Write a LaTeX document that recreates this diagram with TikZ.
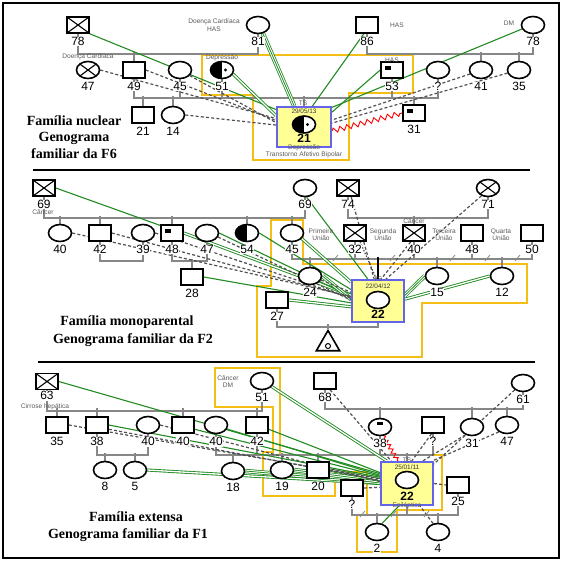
\documentclass[tikz,border=0pt]{standalone}
\usepackage{fontspec}
\setmainfont{Liberation Sans}
\newfontfamily\capfont{Liberation Serif}
\usetikzlibrary{shapes.geometric,decorations.pathmorphing}
\pgfdeclarelayer{bg}
\pgfdeclarelayer{mid}
\pgfsetlayers{bg,mid,main}
\definecolor{grn}{RGB}{34,139,34}
\definecolor{ylw}{RGB}{245,190,20}
\definecolor{bluebox}{RGB}{100,100,235}
\definecolor{idxfill}{RGB}{255,255,150}
\definecolor{fam}{RGB}{135,135,135}
\definecolor{dsh}{RGB}{80,80,80}
\tikzset{
  sym/.style={draw=black, line width=1.6pt, inner sep=0pt, fill=white},
  male/.style={sym, rectangle, minimum width=22pt, minimum height=16pt},
  female/.style={sym, ellipse, minimum width=23pt, minimum height=17pt},
  dead/.style={path picture={\draw[line width=1.1pt] (path picture bounding box.north west) -- (path picture bounding box.south east) (path picture bounding box.north east) -- (path picture bounding box.south west);}},
  halfdot/.style={path picture={\fill[black] (path picture bounding box.south west) rectangle (path picture bounding box.north); \fill[black] ([xshift=3.5pt]path picture bounding box.center) circle (1.7pt);}},
  halfleft/.style={path picture={\fill[black] (path picture bounding box.south west) rectangle (path picture bounding box.north);}},
  sqmark/.style={path picture={\fill[black] ([xshift=4pt,yshift=-3.5pt]path picture bounding box.north west) rectangle ++(6pt,-4pt);}},
  cmark/.style={path picture={\fill[black] ([xshift=-3pt,yshift=-3.5pt]path picture bounding box.north) rectangle ++(6pt,-3pt);}},
  num/.style={font=\fontsize{12}{12}\selectfont, inner sep=0.5pt, fill=white},
  lb/.style={label={[num,label distance=2.6pt]below:#1}},
  tiny/.style={font=\fontsize{6.6}{7.2}\selectfont, text=black!65, align=center, inner sep=0pt},
  date/.style={font=\fontsize{6.4}{7}\selectfont, text=black!80, inner sep=0pt},
  big/.style={font=\bfseries\fontsize{12}{12}\selectfont, inner sep=0pt},
  idx/.style={rectangle, draw=bluebox, line width=2pt, fill=idxfill, inner sep=0pt},
  famline/.style={draw=fam, line width=1.4pt},
  g1/.style={draw=grn, line width=1.1pt},
  g2/.style={draw=grn, line width=0.9pt, double=white, double distance=1.3pt},
  g3/.style={draw=grn, line width=0.8pt, double=white, double distance=2.8pt},
  g3m/.style={draw=grn, line width=0.8pt},
  conf/.style={draw=dsh, line width=1.2pt, dash pattern=on 3pt off 2.2pt},
  dotl/.style={draw=dsh, line width=1.2pt, dash pattern=on 1.4pt off 1.6pt},
  ybox/.style={draw=ylw, line width=1.5pt},
  zig/.style={draw=red, line width=0.9pt, decorate, decoration={zigzag, segment length=7pt, amplitude=2.5pt}},
  capt/.style={font=\capfont\bfseries\fontsize{14}{16.5}\selectfont, align=center, inner sep=0pt},
  slash/.style={draw=fam, line width=0.8pt},
}
\begin{document}
\begin{tikzpicture}[x=1pt,y=-1pt]
\useasboundingbox (0,0) rectangle (567,563);
\draw[line width=1.2pt] (3,3) rectangle (559,558);
\draw[line width=1.8pt] (33,170) -- (530,170);
\draw[line width=1.8pt] (38,362) -- (535,362);

% yellow outlines
\begin{pgfonlayer}{bg}
\draw[ybox] (202,55) -- (413,55) -- (413,93) -- (349,93) -- (349,160) -- (253,160) -- (253,95) -- (202,95) -- cycle;
\draw[ybox] (271,220) -- (303,220) -- (303,264) -- (527,264) -- (527,303) -- (422,303) -- (422,357) -- (257,357) -- (257,286) -- (271,286) -- cycle;
\draw[ybox] (215,368) -- (280,368) -- (280,455) -- (442,455) -- (442,510) -- (397,510) -- (397,552) -- (357,552) -- (357,515) -- (367,515) -- (367,472) -- (335,472) -- (335,496) -- (263,496) -- (263,452) -- (273,452) -- (273,407) -- (215,407) -- cycle;
\end{pgfonlayer}

% ================= PANEL 1 =================
\node[male,dead,lb=78] (A78) at (78,25) {};
\node[female,lb=81] (A81) at (258,25) {};
\node[male,lb=86] (A86) at (367,25) {};
\node[female,lb=78] (A78r) at (533,25) {};
\node[female,dead,lb=47] (A47) at (88,70) {};
\node[male,lb=49] (A49) at (134,70) {};
\node[female,lb=45] (A45) at (180,70) {};
\node[female,halfdot,lb=51] (A51) at (222,70) {};
\node[male,sqmark,lb=53] (A53) at (392,70) {};
\node[female,lb=?] (Aq) at (438,70) {};
\node[female,lb=41] (A41) at (481,70) {};
\node[female,lb=35] (A35) at (519,70) {};
\node[male,lb=21] (A21) at (143,115) {};
\node[female,lb=14] (A14) at (173,115) {};
\node[male,sqmark,lb=31] (A31) at (414,113) {};
\node[idx,minimum width=54pt,minimum height=40pt] (I1) at (304,127) {};
\node[female,halfdot] (I1s) at (304,124.5) {};
\node[tiny] (t1) at (303,103) {TS};
\node[date] (t2) at (304,111.5) {29/05/13};
\node[big] (t3) at (304,138.5) {21};
\node[tiny] (t4) at (304,147.5) {Depressão};
\node[tiny] (t5) at (304,155) {Transtorno Afetivo Bipolar};
\node[tiny] (t6) at (88,57) {Doença Cardíaca};
\node[tiny] (t7) at (214,25) {Doença Cardíaca\\HAS};
\node[tiny] (t8) at (222,58) {Depressão};
\node[tiny] (t9) at (392,60) {HAS};
\node[tiny] (t10) at (397,25) {HAS};
\node[tiny] (t11) at (509,23) {DM};
\node[capt] (cap1) at (74,137) {Família nuclear\\Genograma\\familiar da F6};

\begin{pgfonlayer}{mid}
\draw[famline] (A78.south) -- ++(0,20) -| (A81.south);
\draw[famline] (A86.south) -- ++(0,20) -| (A78r.south);
\draw[famline] (A49.north) -- ++(0,-9);
\draw[famline] (A41.north) -- ++(0,-8.5);
\draw[famline] (A35.north) -- ++(0,-8.5);
\draw[famline] (A49.south) -- ++(0,19) -| (Aq.south);
\draw[famline] (A45.south) -- ++(0,18.5);
\draw[famline] (A51.south) -- ++(0,18.5);
\draw[famline] (A53.south) -- ++(0,19);
\draw[famline] (A21.north) -- ++(0,-10);
\draw[famline] (A14.north) -- ++(0,-9.5);
\draw[famline] (A31.north) -- ++(0,-8);
\draw[famline] (I1.north) -- ++(0,-10);
% relations
\draw[g1] (A78.south east) -- (I1.148);
\draw[g3] (A81.-60) -- (I1.115); \draw[g3m] (A81.-60) -- (I1.115);
\draw[g1] (A86.-110) -- (I1.68);
\draw[g1] (A78r.200) -- (I1.35);
\draw[g1] (A53.west) -- (I1.28);
\draw[g2] (A51.-20) -- (I1.158);
\draw[conf] (A47.east) -- (I1.163);
\draw[conf] (A49.east) -- (I1.167);
\draw[conf] (A45.-30) -- (I1.171);
\draw[conf] (A14.east) -- (I1.176);
\draw[conf] (A41.200) -- (I1.14);
\draw[conf] (A35.195) -- (I1.8);
\draw[zig] (I1.-8) -- (A31.west);
\end{pgfonlayer}

% ================= PANEL 2 =================
\node[male,dead,lb=69] (B69) at (44,188) {};
\node[female,lb=69] (B69r) at (305,188) {};
\node[male,dead,lb=74] (B74) at (348,188) {};
\node[female,dead,lb=71] (B71) at (488,188) {};
\node[female,lb=40] (B40) at (60,233) {};
\node[male,lb=42] (B42) at (100,233) {};
\node[female,lb=39] (B39) at (143,233) {};
\node[male,sqmark,lb=48] (B48) at (172,233) {};
\node[female,lb=47] (B47) at (207,233) {};
\node[female,halfleft,lb=54] (B54) at (247,233) {};
\node[female,lb=45] (B45) at (292,233) {};
\node[male,dead,lb=32] (B32) at (355,233) {};
\node[male,dead,lb=40] (B40m) at (414,233) {};
\node[male,lb=48] (B48r) at (472,233) {};
\node[male,lb=50] (B50) at (532,233) {};
\node[male,lb=28] (B28) at (192,277) {};
\node[female,lb=24] (B24) at (310,276) {};
\node[female,lb=15] (B15) at (437,276) {};
\node[female,lb=12] (B12) at (502,276) {};
\node[male,lb=27] (B27) at (277,300) {};
\node[idx,minimum width=52pt,minimum height=42pt] (I2) at (378,301) {};
\node[female] (I2s) at (378,300) {};
\node[tiny] (u1) at (378,279) {TS};
\node[date] (u2) at (378,286) {22/04/12};
\node[big] (u3) at (378,314) {22};
\node[draw, line width=1.6pt, regular polygon, regular polygon sides=3, minimum size=27pt, inner sep=0pt, fill=white] (Btri) at (328,344) {};
\node[draw, line width=1pt, circle, minimum size=5pt, inner sep=0pt] (Btric) at (328,346) {};
\node[tiny] (u4) at (43,212.5) {Câncer};
\node[tiny] (u5) at (414,221) {Câncer};
\node[tiny] (u6) at (321,234.5) {Primeira\\União};
\node[tiny] (u7) at (383,234.5) {Segunda\\União};
\node[tiny] (u8) at (444,234.5) {Terceira\\União};
\node[tiny] (u9) at (501,234.5) {Quarta\\União};
\node[capt] (cap2a) at (127,322) {Família monoparental};
\node[capt] (cap2b) at (133,340) {Genograma familiar da F2};

\begin{pgfonlayer}{mid}
\draw[famline] (B69.south) -- ++(0,21) -| (B69r.south);
\draw[famline] (B40.north) -- ++(0,-7.5);
\draw[famline] (B42.north) -- ++(0,-8);
\draw[famline] (B48.north) -- ++(0,-8);
\draw[famline] (B54.north) -- ++(0,-7.5);
\draw[famline] (B45.north) -- ++(0,-7.5);
\draw[famline] (B74.south) -- ++(0,21) -| (B71.south);
\draw[famline] (B40m.north) -- ++(0,-8);
\draw[famline] (B42.south) -- ++(0,19) -| (B39.south);
\draw[famline] (B48.south) -- ++(0,19) -| (B47.south);
\draw[famline] (B28.north) -- ++(0,-9);
\draw[famline] (B45.south) -- ++(0,16.5) -| (B50.south);
\draw[famline] (B32.south) -- ++(0,17);
\draw[famline] (B40m.south) -- ++(0,17);
\draw[famline] (B48r.south) -- ++(0,17);
\draw[famline] (B24.north) -- ++(0,-9.5);
\draw[famline] (B15.north) -- ++(0,-9.5);
\draw[famline] (B12.north) -- ++(0,-9.5);
\draw[draw=black, line width=1.4pt] (I2.north) -- ++(0,-22);
\draw[famline] (B27.south) -- ++(0,18) -| (I2.south);
\draw[famline] (Btri.north) -- ++(0,-5);
% relations
\draw[g1] (B69.east) -- (I2.165);
\draw[g2] (B48.east) -- (I2.168);
\draw[g1] (B47.east) -- (I2.171);
\draw[g1] (B54.east) -- (I2.157);
\draw[g2] (B45.-30) -- (I2.145);
\draw[g1] (B69r.-80) -- (I2.115);
\draw[g3] (B24.east) -- (I2.176); \draw[g3m] (B24.east) -- (I2.176);
\draw[g1] (B28.east) -- (I2.184);
\draw[g2] (B27.east) -- (I2.192);
\draw[g3] (B15.west) -- (I2.12); \draw[g3m] (B15.west) -- (I2.12);
\draw[g2] (B12.west) -- (I2.4);
\draw[conf] (B40.east) -- (I2.170);
\draw[conf] (B42.east) -- (I2.172);
\draw[conf] (B39.east) -- (I2.174);
\draw[conf] (B47.-20) -- (I2.178);
\draw[conf] (B24.-20) -- (I2.162);
\draw[conf] (B74.-70) -- (I2.100);
\draw[dotl] (B32.-60) -- (I2.94);
\draw[conf] (B40m.-110) -- (I2.82);
\draw[conf] (B71.-130) -- (I2.70);
\end{pgfonlayer}
\draw[slash] (333,261) -- (338,255);
\draw[slash] (390,261) -- (395,255);
\draw[slash] (450,261) -- (455,255);
\draw[slash] (485,261) -- (490,255);
\draw[slash] (515,261) -- (520,255);

% ================= PANEL 3 =================
\node[male,dead,label={[num,label distance=0.6pt]below:63}] (C63) at (47,381.5) {};
\node[female,lb=51] (C51) at (262,381) {};
\node[male,lb=68] (C68) at (325,381) {};
\node[female,lb=61] (C61) at (523,383) {};
\node[male,lb=35] (C35) at (57,425) {};
\node[male,lb=38] (C38) at (97,425) {};
\node[female,lb=40] (C40a) at (148,425) {};
\node[male,lb=40] (C40b) at (183,425) {};
\node[female,lb=40] (C40c) at (216,425) {};
\node[male,lb=42] (C42) at (257,425) {};
\node[female,cmark,lb=38] (C38r) at (380,427) {};
\node[male,lb=?] (Cq) at (433,425) {};
\node[female,lb=31] (C31) at (472,427) {};
\node[female,lb=47] (C47) at (507,425) {};
\node[female,lb=8] (C8) at (105,470) {};
\node[female,lb=5] (C5) at (135,470) {};
\node[female,lb=18] (C18) at (233,471) {};
\node[female,lb=19] (C19) at (282,470) {};
\node[male,lb=20] (C20) at (318,470) {};
\node[idx,minimum width=52pt,minimum height=43pt] (I3) at (407,483.5) {};
\node[female] (I3s) at (407,480) {};
\node[tiny] (v1) at (407,460.5) {TS};
\node[date] (v2) at (407,467.5) {25/01/11};
\node[big] (v3) at (407,496.5) {22};
\node[tiny] (v4) at (407,505.5) {Epiléptica};
\node[male,lb=25] (C25) at (458,485) {};
\node[male,lb=?] (Cq2) at (352,488) {};
\node[female,lb=2] (C2) at (377,532) {};
\node[female,lb=4] (C4) at (438,532) {};
\node[tiny] (v5) at (45,406.5) {Cirrose hepática};
\node[tiny] (v6) at (228,381.5) {Câncer\\DM};
\node[capt] (cap3a) at (136,517) {Família extensa};
\node[capt] (cap3b) at (128,535) {Genograma familiar da F1};

\begin{pgfonlayer}{mid}
\draw[famline] (C63.south) -- ++(0,20.5) -| (C51.south);
\draw[famline] (C35.north) -- ++(0,-8);
\draw[famline] (C38.north) -- ++(0,-8);
\draw[famline] (C40b.north) -- ++(0,-8);
\draw[famline] (C42.north) -- ++(0,-8);
\draw[famline] (C38.south) -- ++(0,21) -| (C40a.south);
\draw[famline] (C8.north) -- ++(0,-7.5);
\draw[famline] (C5.north) -- ++(0,-7.5);
\draw[famline] (C40c.south) -- ++(0,20.5) -| (Cq.south);
\draw[famline] (C42.south) -- ++(0,21);
\draw[famline] (C38r.south) -- ++(0,18.5);
\draw[famline] (C18.north) -- ++(0,-8.5);
\draw[famline] (C19.north) -- ++(0,-7.5);
\draw[famline] (C20.north) -- ++(0,-8);
\draw[famline] (I3.north) -- ++(0,-8);
\draw[famline] (C68.south) -- ++(0,19) -| (C61.south);
\draw[famline] (C38r.north) -- ++(0,-10.5);
\draw[famline] (C31.north) -- ++(0,-10.5);
\draw[famline] (C47.north) -- ++(0,-8.5);
\draw[famline] (Cq2.south) -- ++(0,18) -| (C25.south);
\draw[famline] (I3.south) -- ++(0,9);
\draw[famline] (C2.north) -- ++(0,-9.5);
\draw[famline] (C4.north) -- ++(0,-9.5);
% relations
\draw[g1] (C63.east) -- (I3.160);
\draw[g2] (C51.-30) -- (I3.132);
\draw[g1] (C38.east) -- (I3.167);
\draw[g1] (C40b.-20) -- (I3.165);
\draw[g1] (C40c.-20) -- (I3.163);
\draw[g1] (C42.-20) -- (I3.158);
\draw[g2] (C5.east) -- (I3.180);
\draw[g3] (C18.east) -- (I3.178); \draw[g3m] (C18.east) -- (I3.178);
\draw[g3] (C19.east) -- (I3.175); \draw[g3m] (C19.east) -- (I3.175);
\draw[g2] (C20.east) -- (I3.172);
\draw[g1] (I3.250) -- (C2.60);
\draw[conf] (C35.east) -- (I3.170);
\draw[conf] (C38.-20) -- (I3.173);
\draw[conf] (C40a.east) -- (I3.176);
\draw[conf] (C68.-60) -- (I3.125);
\draw[conf] (Cq.-100) -- (I3.78);
\draw[conf] (C31.-130) -- (I3.55);
\draw[conf] (C47.-140) -- (I3.42);
\draw[conf] (C61.-140) -- (I3.36);
\draw[conf] (Cq2.east) -- (I3.188);
\draw[conf] (I3.east) -- (C25.west);
\draw[conf] (C4.120) -- (I3.-60);
\draw[zig, decoration={zigzag, segment length=5pt, amplitude=2pt}] (C38r.-70) -- (I3.112);
\end{pgfonlayer}
\draw[slash] (360,517) -- (365,511);
\draw[slash] (391,517) -- (396,511);
\draw[slash] (424,517) -- (429,511);
\end{tikzpicture}
\end{document}
